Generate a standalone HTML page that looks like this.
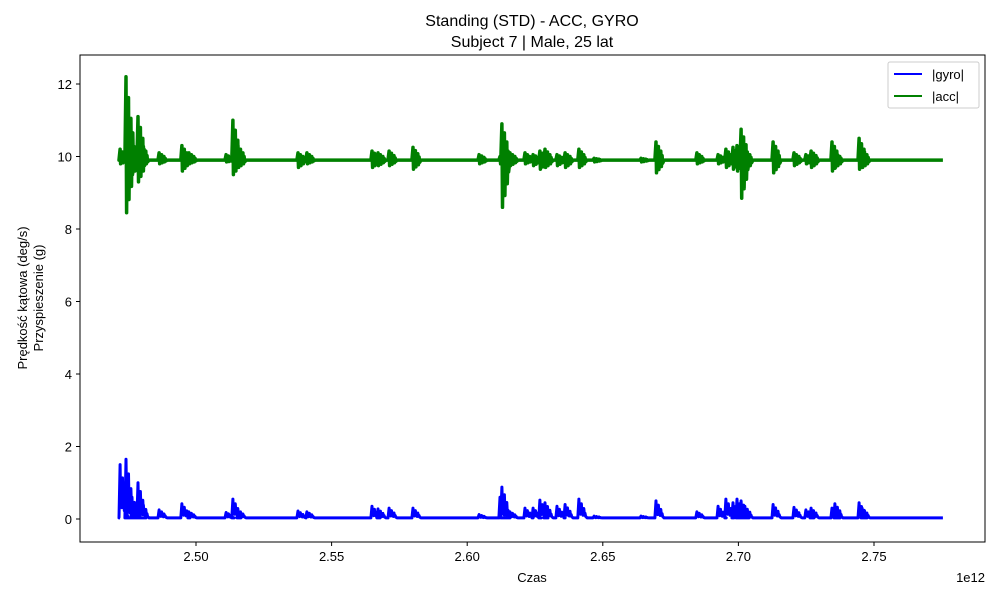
<!DOCTYPE html>
<html><head><meta charset="utf-8">
<style>
body{margin:0;background:#fff;}
svg{display:block;font-family:"Liberation Sans","DejaVu Sans",sans-serif;}
</style></head>
<body>
<svg id="chart" width="1000" height="600" xmlns="http://www.w3.org/2000/svg">
<rect x="0" y="0" width="1000" height="600" fill="#fff"/>
<text x="532" y="26" font-size="16" text-anchor="middle">Standing (STD) - ACC, GYRO</text>
<text x="532" y="47" font-size="16" text-anchor="middle">Subject 7 | Male, 25 lat</text>
<g id="plot"></g>
<rect x="80" y="55" width="905" height="487" fill="none" stroke="#000" stroke-width="1"/>
<g id="xaxis"></g>
<g id="yaxis"></g>
<text x="532" y="582" font-size="13" text-anchor="middle">Czas</text>
<text x="985" y="582" font-size="13" text-anchor="end">1e12</text>
<text transform="translate(27,298) rotate(-90)" font-size="13" text-anchor="middle">Prędkość kątowa (deg/s)</text>
<text transform="translate(43,298) rotate(-90)" font-size="13" text-anchor="middle">Przyspieszenie (g)</text>
<g>
<rect x="888" y="62" width="91" height="46" fill="#fff" stroke="#ccc" rx="2"/>
<line x1="894" y1="74" x2="922" y2="74" stroke="#0000ff" stroke-width="2"/>
<text x="932" y="79" font-size="13">|gyro|</text>
<line x1="894" y1="96" x2="922" y2="96" stroke="#008000" stroke-width="2"/>
<text x="932" y="101" font-size="13">|acc|</text>
</g>
</svg>
<script>
const eventTimes=[2.4720,2.4742,2.4749,2.4764,2.4786,2.4797,2.4864,2.4948,2.4974,2.5111,2.5136,2.5155,2.5376,2.5409,2.5649,2.5671,2.5712,2.5800,2.6044,2.6121,2.6128,2.6158,2.6213,2.6243,2.6268,2.6287,2.6331,2.6361,2.6412,2.6468,2.6641,2.6696,2.6847,2.6925,2.6954,2.6980,2.6995,2.7010,2.7024,2.7128,2.7205,2.7249,2.7268,2.7345,2.7356,2.7445,2.7456];
const gyroPeaks=[1.5,1.65,0.8,0.6,1.0,0.5,0.25,0.42,0.2,0.18,0.55,0.25,0.22,0.2,0.35,0.28,0.3,0.3,0.12,0.6,0.88,0.2,0.3,0.3,0.52,0.45,0.35,0.4,0.55,0.08,0.08,0.5,0.2,0.35,0.55,0.45,0.55,0.5,0.35,0.4,0.32,0.25,0.3,0.3,0.42,0.45,0.3];
const accHigh=[10.2,12.2,11.4,10.3,11.1,10.4,10.1,10.3,10.1,10.05,11.0,10.3,10.1,10.1,10.15,10.1,10.15,10.25,10.05,10.0,10.9,10.1,10.1,10.05,10.15,10.2,10.05,10.1,10.2,9.95,9.95,10.4,10.1,10.05,10.2,10.25,10.3,10.75,10.2,10.4,10.1,10.05,10.15,10.4,10.1,10.5,10.2];
const accLow=[9.8,8.45,9.5,9.5,9.3,9.7,9.8,9.6,9.8,9.85,9.5,9.7,9.7,9.8,9.7,9.75,9.75,9.65,9.8,9.8,8.6,9.75,9.8,9.75,9.65,9.7,9.75,9.7,9.7,9.85,9.85,9.55,9.8,9.8,9.7,9.65,9.6,8.85,9.6,9.55,9.75,9.8,9.7,9.6,9.7,9.65,9.7];
const timeRange=[2.4720,2.7754];
const gyroBase=0.03, accBase=9.9;
const xTicks=[2.50,2.55,2.60,2.65,2.70,2.75];
const xTickLabels=["2.50","2.55","2.60","2.65","2.70","2.75"];
const yTicks=[0,2,4,6,8,10,12];
const yTickLabels=["0","2","4","6","8","10","12"];

const NS="http://www.w3.org/2000/svg";
function xs(t){return 196+(t-2.50)*2712;}
function ys(v){return 519-v*36.25;}
function mk(tag,attrs,parent){const e=document.createElementNS(NS,tag);for(const k in attrs)e.setAttribute(k,attrs[k]);parent.appendChild(e);return e;}
const plot=document.getElementById('plot');
const xa=document.getElementById('xaxis'), ya=document.getElementById('yaxis');

xTicks.forEach((t,i)=>{
  const l=mk('line',{x1:xs(t),x2:xs(t),y1:542,y2:546,stroke:'#000'},xa);
  
  
  const tx=mk('text',{x:xs(t),y:561,'font-size':13,'text-anchor':'middle'},xa);
  tx.textContent=xTickLabels[i];
  
  
});
yTicks.forEach((v,i)=>{
  const l=mk('line',{x1:76,x2:80,y1:ys(v),y2:ys(v),stroke:'#000'},ya);
  
  
  const tx=mk('text',{x:72,y:ys(v)+5,'font-size':13,'text-anchor':'end'},ya);
  tx.textContent=yTickLabels[i];
  
  
});

// gyro line: each event a short decaying burst
const decay=[1,0.55,0.75,0.4,0.5,0.25];
let gp=[[timeRange[0],gyroBase]];
eventTimes.forEach((t,i)=>{
  gp.push([t-0.0004,gyroBase]);
  decay.forEach((d,k)=>{gp.push([t+k*0.00045,gyroBase+(gyroPeaks[i]-gyroBase)*d]);gp.push([t+k*0.00045+0.0002,gyroBase+(gyroPeaks[i]-gyroBase)*d*0.35]);});
  gp.push([t+0.003,gyroBase]);
});
gp.push([timeRange[1],gyroBase]);
const gl=mk('polyline',{points:gp.map(p=>xs(p[0]).toFixed(1)+','+ys(p[1]).toFixed(1)).join(' '),fill:'none',stroke:'#0000ff','stroke-width':3,'stroke-linejoin':'round'},plot);



// acc line
let ap=[[timeRange[0],accBase]];
eventTimes.forEach((t,i)=>{
  ap.push([t-0.0004,accBase]);
  decay.forEach((d,k)=>{ap.push([t+k*0.00045,accBase+(accHigh[i]-accBase)*d]);ap.push([t+k*0.00045+0.0002,accBase+(accLow[i]-accBase)*d]);});
  ap.push([t+0.003,accBase]);
});
ap.push([timeRange[1],accBase]);
const al=mk('polyline',{points:ap.map(p=>xs(p[0]).toFixed(1)+','+ys(p[1]).toFixed(1)).join(' '),fill:'none',stroke:'#008000','stroke-width':3.5,'stroke-linejoin':'round'},plot);


</script>
</body></html>
